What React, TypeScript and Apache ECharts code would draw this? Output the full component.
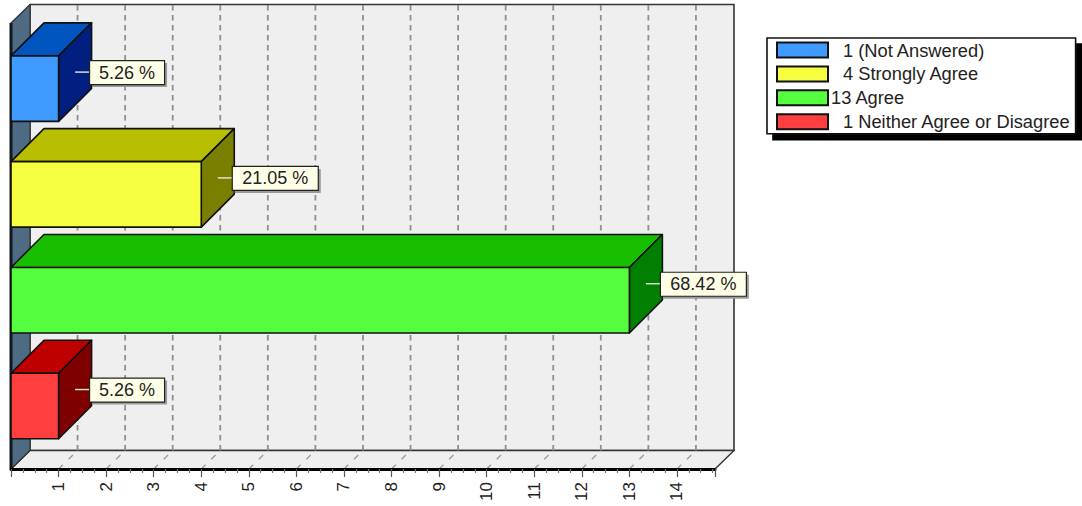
import React, { useEffect, useRef } from "react";
import * as echarts from "echarts";

const categories = ["1 (Not Answered)", "4 Strongly Agree", "13 Agree", "1 Neither Agree or Disagree"];
const counts = [1, 4, 13, 1];
const percentLabels = ["5.26 %", "21.05 %", "68.42 %", "5.26 %"];
const frontColors = ["#3F9BFF", "#F5FF3F", "#55FF3F", "#FF3F3F"];
const topColors = ["#0055BF", "#B8BF00", "#18BF00", "#BF0000"];
const sideColors = ["#001F80", "#7A7F00", "#007F00", "#7F0000"];
const gridValues = [1, 2, 3, 4, 5, 6, 7, 8, 9, 10, 11, 12, 13, 14];

const AXIS_MAX = 14.8;
const ROW_MIN = -0.62;
const ROW_MAX = 3.595;
const WALL_DX = 19;
const WALL_DY = 18.5;
const BAR_DEPTH = 33;
const BAR_SHARE = 0.619;
const FONT = "'Liberation Sans', Arial, sans-serif";

const poly = (points: number[][], fill: string, stroke = "#111", lineWidth = 1.6) => ({
  type: "polygon",
  shape: { points },
  style: { fill, stroke, lineWidth, lineJoin: "round" },
});

const seg = (a: number[], b: number[], stroke: string, lineWidth: number, lineDash?: number[]) => ({
  type: "line",
  shape: { x1: a[0], y1: a[1], x2: b[0], y2: b[1] },
  style: { stroke, lineWidth, lineDash },
});

const renderFrame = (_p: any, api: any) => {
  const tl = api.coord([0, ROW_MIN]);
  const bl = api.coord([0, ROW_MAX]);
  const br = api.coord([AXIS_MAX, ROW_MAX]);
  const back = (p: number[]) => [p[0] + WALL_DX, p[1] - WALL_DY];
  const children: any[] = [
    poly([back(tl), [br[0] + WALL_DX, tl[1] - WALL_DY], back(br), back(bl)], "#EFEFEF", "#333", 1.6),
    poly([bl, br, back(br), back(bl)], "#EFEFEF", "#333", 1.4),
    poly([tl, back(tl), back(bl), bl], "#4F6B84", "#333", 1.2),
  ];
  gridValues.forEach((v) => {
    const f = api.coord([v, ROW_MAX]);
    children.push(seg(back(f), [f[0] + WALL_DX, tl[1] - WALL_DY], "#8F8F8F", 1.8, [5.5, 4.5]));
    children.push(seg(f, back(f), "#9A9A9A", 1.3, [6, 8]));
  });
  children.push(seg(tl, bl, "#10181F", 3));
  return { type: "group", children };
};

const renderBar = (i: number) => (_p: any, api: any) => {
  const value = api.value(0);
  const row = api.value(1);
  const end = api.coord([value, row]);
  const start = api.coord([0, row]);
  const half = (api.size([0, 1])[1] * BAR_SHARE) / 2;
  const [x0, x1, yT, yB] = [start[0], end[0], end[1] - half, end[1] + half];
  const d = BAR_DEPTH;
  const ax = x1 + d / 2;
  const ay = end[1] - d / 2;
  const boxW = percentLabels[i].length > 6 ? 86 : 75;
  return {
    type: "group",
    children: [
      poly([[x0, yT], [x0 + d, yT - d], [x1 + d, yT - d], [x1, yT]], topColors[i]),
      poly([[x1, yT], [x1 + d, yT - d], [x1 + d, yB - d], [x1, yB]], sideColors[i]),
      poly([[x0, yT], [x1, yT], [x1, yB], [x0, yB]], frontColors[i]),
      seg([ax, ay], [ax + 15, ay], "#E8E8D8", 1.4),
      { type: "rect", shape: { x: ax + 17, y: ay - 9, width: boxW, height: 24 }, style: { fill: "#9A9A9A" } },
      {
        type: "rect",
        shape: { x: ax + 14.5, y: ay - 11.5, width: boxW, height: 24 },
        style: { fill: "#FFFFE8", stroke: "#222", lineWidth: 1.2 },
      },
      {
        type: "text",
        x: ax + 14.5 + boxW / 2,
        y: ay + 0.5,
        style: {
          text: percentLabels[i],
          fill: "#222",
          font: `18px ${FONT}`,
          align: "center",
          verticalAlign: "middle",
        },
      },
    ],
  };
};

export default function App() {
  const ref = useRef<HTMLDivElement>(null);
  useEffect(() => {
    document.body.style.margin = "0";
    const chart = echarts.init(ref.current!, undefined, { renderer: "svg" });
    chart.setOption({
      animation: false,
      backgroundColor: "#fff",
      grid: { left: 11, right: 367, top: 23, bottom: 37 },
      legend: {
        show: true,
        data: categories.map((name) => ({ name, icon: "rect" })),
        orient: "vertical",
        left: 767,
        top: 38,
        padding: [3, 5, 3, 9],
        itemWidth: 51,
        itemHeight: 15,
        itemGap: 5.9,
        backgroundColor: "#fff",
        borderColor: "#111",
        borderWidth: 1.6,
        shadowColor: "#000",
        shadowBlur: 0,
        shadowOffsetX: 6,
        shadowOffsetY: 6,
        selectedMode: false,
        formatter: (name: string) => (name.startsWith("13") ? `{a|${name}}` : `{b|${name}}`),
        textStyle: {
          rich: {
            a: { fontFamily: FONT, fontSize: 18.3, lineHeight: 15, color: "#222", padding: [0, 0, 0, -2] },
            b: { fontFamily: FONT, fontSize: 18.3, lineHeight: 15, color: "#222", padding: [0, 0, 0, 10] },
          },
        },
      },
      xAxis: {
        type: "value",
        min: 0,
        max: AXIS_MAX,
        interval: 1,
        z: 5,
        splitLine: { show: false },
        axisLine: { show: true, onZero: false, lineStyle: { color: "#000", width: 3 } },
        axisTick: { show: true, length: 8, lineStyle: { color: "#555", width: 1.2 } },
        minorTick: { show: true, splitNumber: 4, length: 4, lineStyle: { color: "#777", width: 1.2 } },
        axisLabel: {
          rotate: 90,
          margin: 13,
          fontFamily: FONT,
          fontSize: 17,
          color: "#222",
          showMaxLabel: false,
          showMinLabel: false,
        },
      },
      yAxis: { type: "value", inverse: true, min: ROW_MIN, max: ROW_MAX, show: false },
      series: [
        {
          type: "custom",
          name: "frame",
          silent: true,
          renderItem: renderFrame,
          data: [[0, 0]],
          clip: false,
        },
        ...categories.map((name, i) => ({
          type: "custom",
          name,
          silent: true,
          clip: false,
          itemStyle: { color: frontColors[i], borderColor: "#111", borderWidth: 1.4 },
          renderItem: renderBar(i),
          data: [[counts[i], i]],
        })),
      ],
    });
    return () => chart.dispose();
  }, []);
  return <div ref={ref} style={{ width: 1082, height: 506, position: "absolute", left: 0, top: 0 }} />;
}
